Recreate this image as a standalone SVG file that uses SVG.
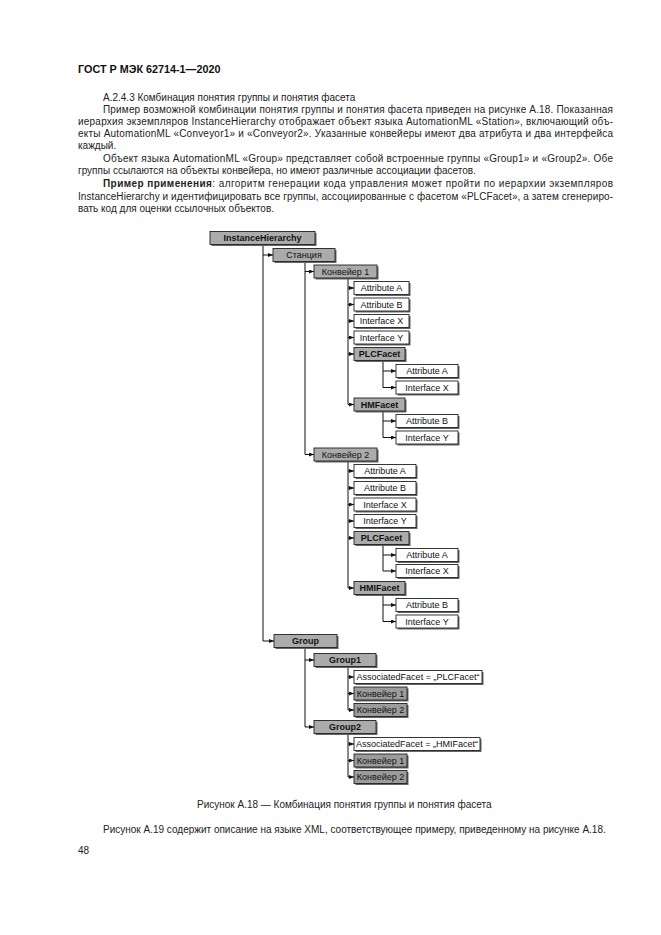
<svg xmlns="http://www.w3.org/2000/svg" width="661" height="935" viewBox="0 0 661 935">
<style>
.t{font-family:"Liberation Sans",Arial,sans-serif;font-size:10px;fill:#222}
.h{font-family:"Liberation Sans",Arial,sans-serif;font-size:10.8px;font-weight:bold;fill:#111}
.l{font-family:"Liberation Sans",Arial,sans-serif;font-size:9px;fill:#111;text-anchor:middle}
.bd{font-weight:bold}
.g rect.f{fill:#ababab;stroke:#222;stroke-width:0.9}
.d rect.f{fill:#9c9c9c;stroke:#222;stroke-width:0.9}
.w rect.f{fill:#fff;stroke:#222;stroke-width:0.9}
rect.s{fill:#666}
.c path{fill:none;stroke:#111;stroke-width:1}
</style>
<defs>
<marker id="a" markerWidth="5" markerHeight="4" refX="5" refY="2" orient="auto" markerUnits="userSpaceOnUse"><path d="M0,0 L5,2 L0,4z" fill="#111"/></marker>
</defs>
<rect width="661" height="935" fill="#fff"/>
<text class="h" x="78" y="73">ГОСТ Р МЭК 62714-1—2020</text>
<text class="t" x="103" y="101">А.2.4.3 Комбинация понятия группы и понятия фасета</text>
<text class="t" x="103" y="112.5" textLength="510" lengthAdjust="spacing">Пример возможной комбинации понятия группы и понятия фасета приведен на рисунке А.18. Показанная</text>
<text class="t" x="78" y="124.5" textLength="535" lengthAdjust="spacing">иерархия экземпляров InstanceHierarchy отображает объект языка AutomationML «Station», включающий объ-</text>
<text class="t" x="78" y="136.5" textLength="535" lengthAdjust="spacing">екты AutomationML «Conveyor1» и «Conveyor2». Указанные конвейеры имеют два атрибута и два интерфейса</text>
<text class="t" x="78" y="149">каждый.</text>
<text class="t" x="103" y="161.5" textLength="510" lengthAdjust="spacing">Объект языка AutomationML «Group» представляет собой встроенные группы «Group1» и «Group2». Обе</text>
<text class="t" x="78" y="174">группы ссылаются на объекты конвейера, но имеют различные ассоциации фасетов.</text>
<text class="t" x="103" y="187" textLength="510" lengthAdjust="spacing"><tspan class="bd">Пример применения</tspan>: алгоритм генерации кода управления может пройти по иерархии экземпляров</text>
<text class="t" x="78" y="199.5" textLength="535" lengthAdjust="spacing">InstanceHierarchy и идентифицировать все группы, ассоциированные с фасетом «PLCFacet», а затем сгенериро-</text>
<text class="t" x="78" y="212">вать код для оценки ссылочных объектов.</text>

<g id="connectors" class="c">
<path d="M263 244.5 V641"/>
<path d="M263 255 H273" marker-end="url(#a)"/>
<path d="M263 641 H274" marker-end="url(#a)"/>
<path d="M305 261.5 V454.5"/>
<path d="M305 271.5 H314" marker-end="url(#a)"/>
<path d="M305 454.5 H314" marker-end="url(#a)"/>
<path d="M348 278 V404.5"/>
<path d="M348 288 H354" marker-end="url(#a)"/>
<path d="M348 304.5 H354" marker-end="url(#a)"/>
<path d="M348 321 H354" marker-end="url(#a)"/>
<path d="M348 337.5 H354" marker-end="url(#a)"/>
<path d="M348 354 H354" marker-end="url(#a)"/>
<path d="M348 404.5 H354" marker-end="url(#a)"/>
<path d="M383 360.5 V387.5"/>
<path d="M383 371 H396" marker-end="url(#a)"/>
<path d="M383 387.5 H396" marker-end="url(#a)"/>
<path d="M383 411 V437.5"/>
<path d="M383 421 H396" marker-end="url(#a)"/>
<path d="M383 437.5 H396" marker-end="url(#a)"/>
<path d="M348 461 V588"/>
<path d="M348 471 H354" marker-end="url(#a)"/>
<path d="M348 488 H354" marker-end="url(#a)"/>
<path d="M348 504.5 H354" marker-end="url(#a)"/>
<path d="M348 521 H354" marker-end="url(#a)"/>
<path d="M348 538 H354" marker-end="url(#a)"/>
<path d="M348 588 H354" marker-end="url(#a)"/>
<path d="M383 544.5 V571"/>
<path d="M383 555 H396" marker-end="url(#a)"/>
<path d="M383 571 H396" marker-end="url(#a)"/>
<path d="M383 594.5 V621.5"/>
<path d="M383 605 H396" marker-end="url(#a)"/>
<path d="M383 621.5 H396" marker-end="url(#a)"/>
<path d="M305 647.5 V727"/>
<path d="M305 660 H314" marker-end="url(#a)"/>
<path d="M305 727 H314" marker-end="url(#a)"/>
<path d="M348 666.5 V710"/>
<path d="M348 677 H354" marker-end="url(#a)"/>
<path d="M348 693.5 H354" marker-end="url(#a)"/>
<path d="M348 710 H354" marker-end="url(#a)"/>
<path d="M348 733.5 V777"/>
<path d="M348 744 H354" marker-end="url(#a)"/>
<path d="M348 760.5 H354" marker-end="url(#a)"/>
<path d="M348 777 H354" marker-end="url(#a)"/>
</g>

<g id="n-ih" class="g"><rect class="s" x="211.5" y="233" width="105" height="13"/><rect class="f" x="210" y="231.5" width="105" height="13"/><text class="l bd" x="262.5" y="241.3">InstanceHierarchy</text></g>
<g id="n-station" class="g"><rect class="s" x="274.5" y="250" width="62" height="13"/><rect class="f" x="273" y="248.5" width="62" height="13"/><text class="l" x="304" y="258.3">Станция</text></g>
<g id="n-k1" class="g"><rect class="s" x="315.5" y="266.5" width="63" height="13"/><rect class="f" x="314" y="265" width="63" height="13"/><text class="l" x="345.5" y="274.8">Конвейер 1</text></g>
<g id="n-k1-aa" class="w"><rect class="s" x="355.5" y="283" width="55" height="13"/><rect class="f" x="354" y="281.5" width="55" height="13"/><text class="l" x="381.5" y="291.3">Attribute A</text></g>
<g id="n-k1-ab" class="w"><rect class="s" x="355.5" y="299.5" width="55" height="13"/><rect class="f" x="354" y="298" width="55" height="13"/><text class="l" x="381.5" y="307.8">Attribute B</text></g>
<g id="n-k1-ix" class="w"><rect class="s" x="355.5" y="316" width="55" height="13"/><rect class="f" x="354" y="314.5" width="55" height="13"/><text class="l" x="381.5" y="324.3">Interface X</text></g>
<g id="n-k1-iy" class="w"><rect class="s" x="355.5" y="332.5" width="55" height="13"/><rect class="f" x="354" y="331" width="55" height="13"/><text class="l" x="381.5" y="340.8">Interface Y</text></g>
<g id="n-k1-plc" class="g"><rect class="s" x="355.5" y="349" width="51" height="13"/><rect class="f" x="354" y="347.5" width="51" height="13"/><text class="l bd" x="379.5" y="357.3">PLCFacet</text></g>
<g id="n-k1-plc-aa" class="w"><rect class="s" x="397.5" y="366" width="62" height="13"/><rect class="f" x="396" y="364.5" width="62" height="13"/><text class="l" x="427" y="374.3">Attribute A</text></g>
<g id="n-k1-plc-ix" class="w"><rect class="s" x="397.5" y="382.5" width="62" height="13"/><rect class="f" x="396" y="381" width="62" height="13"/><text class="l" x="427" y="390.8">Interface X</text></g>
<g id="n-k1-hm" class="g"><rect class="s" x="355.5" y="399.5" width="51" height="13"/><rect class="f" x="354" y="398" width="51" height="13"/><text class="l bd" x="379.5" y="407.8">HMFacet</text></g>
<g id="n-k1-hm-ab" class="w"><rect class="s" x="397.5" y="416" width="62" height="13"/><rect class="f" x="396" y="414.5" width="62" height="13"/><text class="l" x="427" y="424.3">Attribute B</text></g>
<g id="n-k1-hm-iy" class="w"><rect class="s" x="397.5" y="432.5" width="62" height="13"/><rect class="f" x="396" y="431" width="62" height="13"/><text class="l" x="427" y="440.8">Interface Y</text></g>
<g id="n-k2" class="g"><rect class="s" x="315.5" y="449.5" width="63" height="13"/><rect class="f" x="314" y="448" width="63" height="13"/><text class="l" x="345.5" y="457.8">Конвейер 2</text></g>
<g id="n-k2-aa" class="w"><rect class="s" x="355.5" y="466" width="62" height="13"/><rect class="f" x="354" y="464.5" width="62" height="13"/><text class="l" x="385" y="474.3">Attribute A</text></g>
<g id="n-k2-ab" class="w"><rect class="s" x="355.5" y="483" width="62" height="13"/><rect class="f" x="354" y="481.5" width="62" height="13"/><text class="l" x="385" y="491.3">Attribute B</text></g>
<g id="n-k2-ix" class="w"><rect class="s" x="355.5" y="499.5" width="62" height="13"/><rect class="f" x="354" y="498" width="62" height="13"/><text class="l" x="385" y="507.8">Interface X</text></g>
<g id="n-k2-iy" class="w"><rect class="s" x="355.5" y="516" width="62" height="13"/><rect class="f" x="354" y="514.5" width="62" height="13"/><text class="l" x="385" y="524.3">Interface Y</text></g>
<g id="n-k2-plc" class="g"><rect class="s" x="355.5" y="533" width="55" height="13"/><rect class="f" x="354" y="531.5" width="55" height="13"/><text class="l bd" x="381.5" y="541.3">PLCFacet</text></g>
<g id="n-k2-plc-aa" class="w"><rect class="s" x="397.5" y="550" width="62" height="13"/><rect class="f" x="396" y="548.5" width="62" height="13"/><text class="l" x="427" y="558.3">Attribute A</text></g>
<g id="n-k2-plc-ix" class="w"><rect class="s" x="397.5" y="566" width="62" height="13"/><rect class="f" x="396" y="564.5" width="62" height="13"/><text class="l" x="427" y="574.3">Interface X</text></g>
<g id="n-k2-hmi" class="g"><rect class="s" x="355.5" y="583" width="51" height="13"/><rect class="f" x="354" y="581.5" width="51" height="13"/><text class="l bd" x="379.5" y="591.3">HMIFacet</text></g>
<g id="n-k2-hmi-ab" class="w"><rect class="s" x="397.5" y="600" width="62" height="13"/><rect class="f" x="396" y="598.5" width="62" height="13"/><text class="l" x="427" y="608.3">Attribute B</text></g>
<g id="n-k2-hmi-iy" class="w"><rect class="s" x="397.5" y="616.5" width="62" height="13"/><rect class="f" x="396" y="615" width="62" height="13"/><text class="l" x="427" y="624.8">Interface Y</text></g>
<g id="n-group" class="g"><rect class="s" x="275.5" y="636" width="63" height="13"/><rect class="f" x="274" y="634.5" width="63" height="13"/><text class="l bd" x="305.5" y="644.3">Group</text></g>
<g id="n-group1" class="g"><rect class="s" x="315.5" y="655" width="62" height="13"/><rect class="f" x="314" y="653.5" width="62" height="13"/><text class="l bd" x="345" y="663.3">Group1</text></g>
<g id="n-g1-af" class="w"><rect class="s" x="355.5" y="672" width="128" height="13"/><rect class="f" x="354" y="670.5" width="128" height="13"/><text class="l" x="418" y="680.3">AssociatedFacet = „PLCFacet“</text></g>
<g id="n-g1-k1" class="d"><rect class="s" x="355.5" y="688.5" width="53" height="13"/><rect class="f" x="354" y="687" width="53" height="13"/><text class="l" x="380.5" y="696.8">Конвейер 1</text></g>
<g id="n-g1-k2" class="d"><rect class="s" x="355.5" y="705" width="53" height="13"/><rect class="f" x="354" y="703.5" width="53" height="13"/><text class="l" x="380.5" y="713.3">Конвейер 2</text></g>
<g id="n-group2" class="g"><rect class="s" x="315.5" y="722" width="62" height="13"/><rect class="f" x="314" y="720.5" width="62" height="13"/><text class="l bd" x="345" y="730.3">Group2</text></g>
<g id="n-g2-af" class="w"><rect class="s" x="355.5" y="739" width="126" height="13"/><rect class="f" x="354" y="737.5" width="126" height="13"/><text class="l" x="417" y="747.3">AssociatedFacet = „HMIFacet“</text></g>
<g id="n-g2-k1" class="d"><rect class="s" x="355.5" y="755.5" width="53" height="13"/><rect class="f" x="354" y="754" width="53" height="13"/><text class="l" x="380.5" y="763.8">Конвейер 1</text></g>
<g id="n-g2-k2" class="d"><rect class="s" x="355.5" y="772" width="53" height="13"/><rect class="f" x="354" y="770.5" width="53" height="13"/><text class="l" x="380.5" y="780.3">Конвейер 2</text></g>

<text class="t" x="197" y="808">Рисунок А.18 — Комбинация понятия группы и понятия фасета</text>
<text class="t" x="103" y="833">Рисунок А.19 содержит описание на языке XML, соответствующее примеру, приведенному на рисунке А.18.</text>
<text class="t" x="78" y="854">48</text>
</svg>
